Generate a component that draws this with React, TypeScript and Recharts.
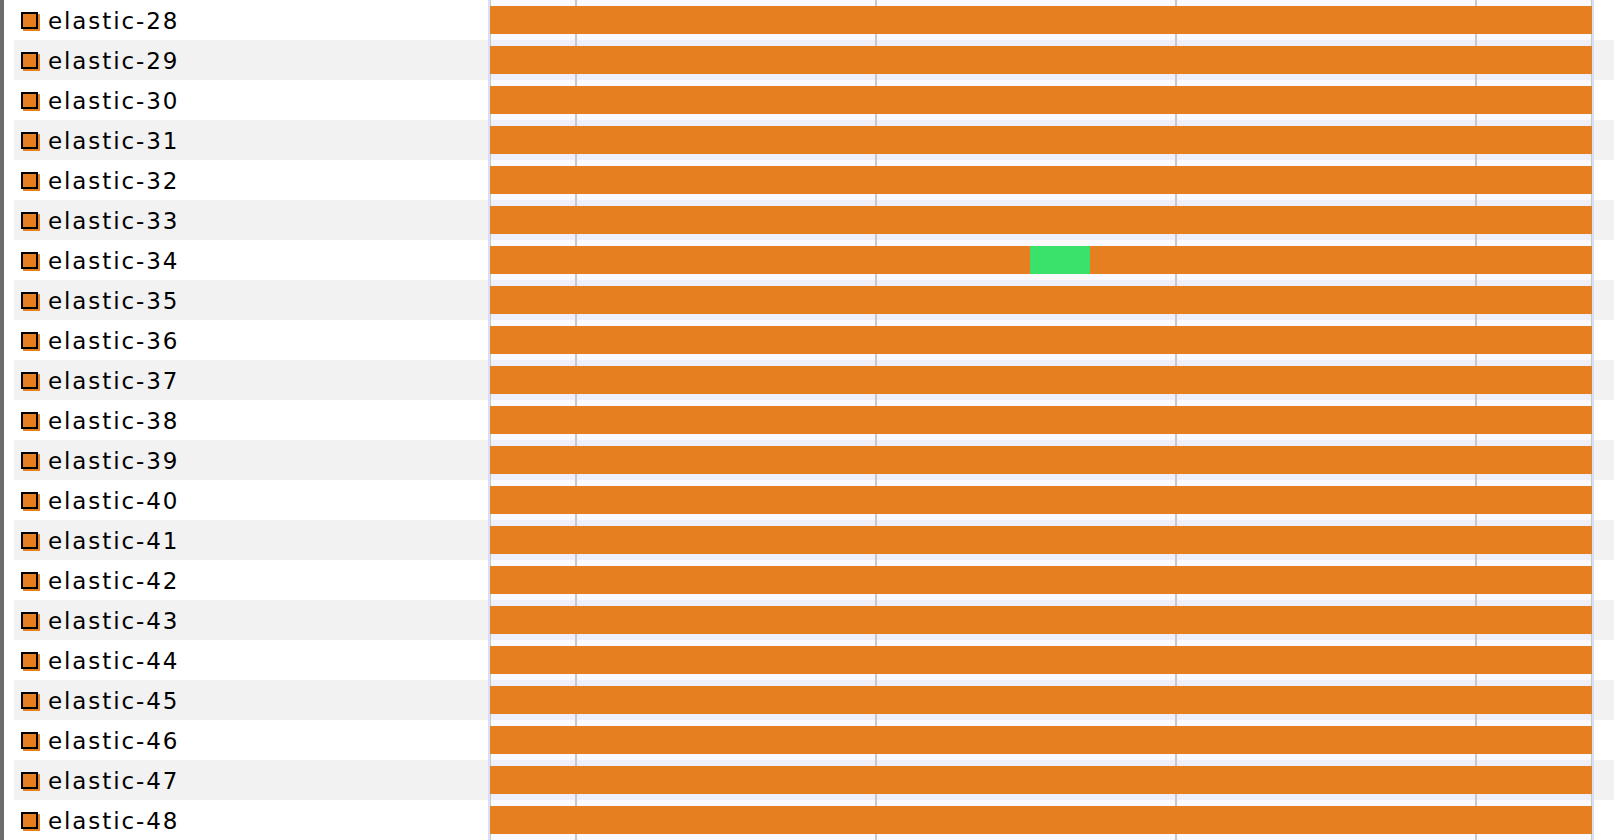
import { BarChart, Bar, XAxis, YAxis, CartesianGrid } from 'recharts';

// Hôtes affichés (une ligne chacun)
const hosts = [
  'elastic-28', 'elastic-29', 'elastic-30', 'elastic-31', 'elastic-32', 'elastic-33',
  'elastic-34', 'elastic-35', 'elastic-36', 'elastic-37', 'elastic-38', 'elastic-39',
  'elastic-40', 'elastic-41', 'elastic-42', 'elastic-43', 'elastic-44', 'elastic-45',
  'elastic-46', 'elastic-47', 'elastic-48',
];

// Fenêtre de temps visible, en minutes depuis minuit
const windowStart = 642.8;
const windowEnd = 863.2;
// Traits verticaux de la grille (11h, 12h, 13h, 14h)
const gridTicks = [660, 720, 780, 840];

// Périodes vertes : hôte, début, fin (minutes)
const greenHosts = ['elastic-34'];
const greenStarts = [750.8];
const greenEnds = [762.8];

const ORANGE = '#e67f1f';
const GREEN = '#3ae26a';
const W = 1614;
const H = 840;
const ROW_H = H / hosts.length;

const data = hosts.map((host) => {
  const g = greenHosts.indexOf(host);
  if (g < 0) return { host, avant: windowEnd - windowStart, vert: 0, apres: 0 };
  return {
    host,
    avant: greenStarts[g] - windowStart,
    vert: greenEnds[g] - greenStarts[g],
    apres: windowEnd - greenEnds[g],
  };
});

function HostTick({ y, payload, index }: { y?: number; payload?: { value: string }; index?: number }) {
  const cy = y ?? 0;
  const odd = (index ?? 0) % 2 === 1;
  const bg = odd ? '#f2f2f2' : '#ffffff';
  return (
    <g>
      <rect x={14} y={cy - ROW_H / 2} width={474} height={ROW_H} fill={bg} />
      <rect x={1594} y={cy - ROW_H / 2} width={20} height={ROW_H} fill={bg} />
      <rect x={23} y={cy - 6} width={17} height={17} fill={ORANGE} />
      <rect x={22} y={cy - 7} width={15} height={15} fill={ORANGE} stroke="#000" strokeWidth={2} />
      <text
        x={48}
        y={cy + 9}
        fontSize={23}
        fill="#000"
        letterSpacing={1.9}
        style={{ fontFamily: '"DejaVu Sans", sans-serif' }}
      >
        {payload?.value}
      </text>
    </g>
  );
}

export default function App() {
  return (
    <div style={{ position: 'absolute', left: 0, top: 0, width: W, height: H, background: '#fff', overflow: 'hidden' }}>
      <div style={{ position: 'absolute', left: 0, top: 0, width: 4, height: H, background: '#6b6b6b' }} />
      <BarChart
        width={W}
        height={H}
        data={data}
        layout="vertical"
        margin={{ top: 0, right: 22, bottom: 0, left: 0 }}
      >
        <CartesianGrid
          vertical={false}
          stroke="none"
          horizontalFill={['#f9f9fe', '#eeeff9']}
          horizontalCoordinatesGenerator={({ offset }: any) =>
            hosts.map((_, i) => offset.top + i * (offset.height / hosts.length))
          }
        />
        <CartesianGrid horizontal={false} stroke="#c8c8c8" strokeWidth={2} />
        <XAxis
          type="number"
          hide
          domain={[0, windowEnd - windowStart]}
          ticks={gridTicks.map((t) => t - windowStart)}
          allowDataOverflow
        />
        <YAxis
          type="category"
          dataKey="host"
          width={490}
          axisLine={false}
          tickLine={false}
          interval={0}
          tick={<HostTick />}
        />
        <Bar dataKey="avant" stackId="t" fill={ORANGE} barSize={28} isAnimationActive={false} />
        <Bar dataKey="vert" stackId="t" fill={GREEN} barSize={28} isAnimationActive={false} />
        <Bar dataKey="apres" stackId="t" fill={ORANGE} barSize={28} isAnimationActive={false} />
      </BarChart>
      <div style={{ position: 'absolute', left: 488, top: 0, width: 2, height: H, background: '#d8e0f8' }} />
      <div style={{ position: 'absolute', left: 1592, top: 0, width: 2, height: H, background: '#d8e0f8' }} />
    </div>
  );
}
